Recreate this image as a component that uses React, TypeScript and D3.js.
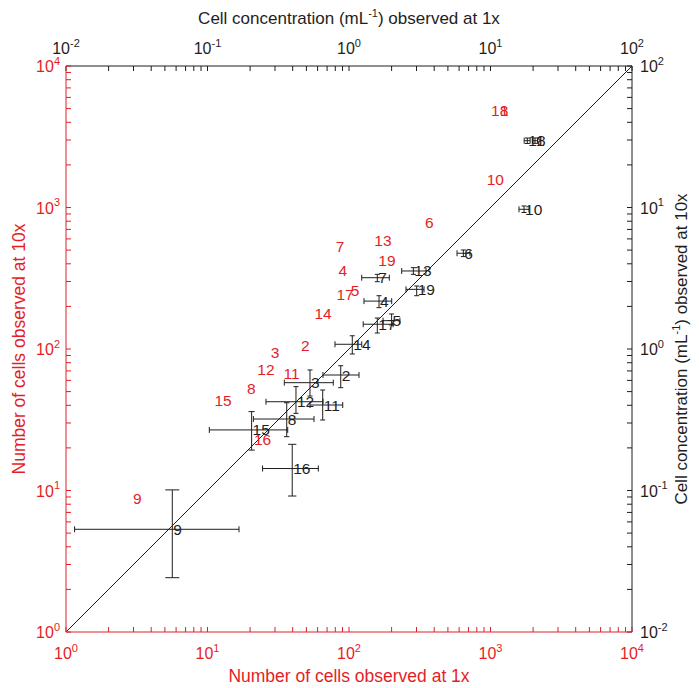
import React from 'react';
import * as d3 from 'd3';

// Sample ids
const ids = ['1','2','3','4','5','6','7','8','9','10','11','12','13','14','15','16','17','18','19'];

// Black markers: number of cells observed at 1x (x) and at 10x (y) with error ranges
const count1x   = [2063, 87.4, 53, 163, 200, 643, 158.5, 36.3, 5.64, 1726, 65.2, 42.2, 285, 105.5, 20.5, 39.7, 158.5, 1820, 301];
const count1xLo = [1975, 65.5, 34.9, 127.6, 174, 580, 123, 21.1, 1.15, 1590, 53, 25.9, 235.7, 79.6, 10.3, 24.5, 126, 1730, 252.8];
const count1xHi = [2150, 117.7, 77.4, 200.4, 229, 716, 192.7, 56.6, 16.7, 1872, 90.3, 65.5, 350, 123, 36.9, 60.7, 205, 1905, 339];
const count10x   = [2966, 65.5, 57.8, 218, 158.5, 475, 319, 32.0, 5.32, 971, 40.2, 42.4, 356, 108, 26.8, 14.3, 149.6, 2966, 264];
const count10xLo = [2840, 53.3, 46.5, 196, 147.8, 450, 299, 24.0, 2.42, 922, 31.5, 35.1, 337, 92.2, 19.3, 9.14, 129.7, 2833, 238];
const count10xHi = [3100, 76.2, 71.1, 238, 176.8, 501, 337, 41.7, 10.1, 1025, 51.3, 54.2, 375.6, 124, 36.1, 21.2, 165.6, 3098, 278.7];

// Red labels: cell concentration (mL^-1) at 1x (top axis) and at 10x (right axis)
const conc1x  = [11.67, 0.457, 0.280, 0.843, 1.03, 3.45, 0.807, 0.190, 0.0297, 9.40, 0.344, 0.225, 1.51, 0.570, 0.112, 0.213, 0.816, 10.09, 1.61];
const conc10x = [48.3, 1.055, 0.948, 3.57, 2.61, 7.81, 5.28, 0.525, 0.0871, 15.9, 0.666, 0.711, 5.82, 1.77, 0.436, 0.230, 2.41, 48.3, 4.21];

// Axis decades
const countDecades = [1, 10, 100, 1000, 10000];
const countExps = ['0', '1', '2', '3', '4'];
const concDecades = [0.01, 0.1, 1, 10, 100];
const concExps = ['-2', '-1', '0', '1', '2'];

const RED = '#e41e26';
const INK = '#1e1e1e';
const FONT = "'Liberation Sans', Arial, Helvetica, sans-serif";

const L = 66, T = 66, S = 566;
const TICK = 5;

function minorTicks(decades: number[]) {
  const out: number[] = [];
  for (let i = 0; i < decades.length - 1; i++) {
    for (let k = 2; k <= 9; k++) out.push(decades[i] * k);
  }
  return out;
}

function Pow({ x, y, exp, anchor, color }: { x: number; y: number; exp: string; anchor: string; color: string }) {
  return (
    <text x={x} y={y} textAnchor={anchor as any} fill={color} fontSize={16} fontFamily={FONT}>
      <tspan>10</tspan>
      <tspan dy={-7.5} fontSize={11}>{exp}</tspan>
    </text>
  );
}

export default function App() {
  const x = d3.scaleLog().domain([1, 10000]).range([L, L + S]);
  const y = d3.scaleLog().domain([1, 10000]).range([T + S, T]);
  const xc = d3.scaleLog().domain([0.01, 100]).range([L, L + S]);
  const yc = d3.scaleLog().domain([0.01, 100]).range([T + S, T]);

  const cMinor = minorTicks(countDecades);
  const kMinor = minorTicks(concDecades);

  return (
    <svg width={699} height={688} style={{ position: 'absolute', left: 0, top: 0, background: '#fff' }}>
      <rect x={0} y={0} width={699} height={688} fill="#fff" />

      {/* top axis (black) */}
      <line x1={L} y1={T} x2={L + S} y2={T} stroke={INK} strokeWidth={1} />
      {[...concDecades, ...kMinor].map((v, i) => (
        <line key={'tt' + i} x1={xc(v)} x2={xc(v)} y1={T} y2={T + TICK} stroke={INK} strokeWidth={1} />
      ))}
      {/* right axis (black) */}
      <line x1={L + S} y1={T} x2={L + S} y2={T + S} stroke={INK} strokeWidth={1} />
      {[...concDecades, ...kMinor].map((v, i) => (
        <line key={'rt' + i} x1={L + S} x2={L + S - TICK} y1={yc(v)} y2={yc(v)} stroke={INK} strokeWidth={1} />
      ))}

      {/* diagonal 1:1 */}
      <line x1={x(1)} y1={y(1)} x2={x(10000)} y2={y(10000)} stroke={INK} strokeWidth={1} />

      {/* bottom axis (red) */}
      <line x1={L} y1={T + S} x2={L + S} y2={T + S} stroke={RED} strokeWidth={1} />
      {[...countDecades, ...cMinor].map((v, i) => (
        <line key={'bt' + i} x1={x(v)} x2={x(v)} y1={T + S} y2={T + S - TICK} stroke={RED} strokeWidth={1} />
      ))}
      {/* left axis (red) */}
      <line x1={L} y1={T} x2={L} y2={T + S} stroke={RED} strokeWidth={1} />
      {[...countDecades, ...cMinor].map((v, i) => (
        <line key={'lt' + i} x1={L} x2={L + TICK} y1={y(v)} y2={y(v)} stroke={RED} strokeWidth={1} />
      ))}

      {/* tick labels */}
      {countDecades.map((v, i) => (
        <Pow key={'bl' + i} x={x(v)} y={T + S + 27} exp={countExps[i]} anchor="middle" color={RED} />
      ))}
      {countDecades.map((v, i) => (
        <Pow key={'ll' + i} x={L - 6} y={y(v) + 6} exp={countExps[i]} anchor="end" color={RED} />
      ))}
      {concDecades.map((v, i) => (
        <Pow key={'tl' + i} x={xc(v)} y={T - 12} exp={concExps[i]} anchor="middle" color={INK} />
      ))}
      {concDecades.map((v, i) => (
        <Pow key={'rl' + i} x={L + S + 8} y={yc(v) + 6} exp={concExps[i]} anchor="start" color={INK} />
      ))}

      {/* axis titles */}
      <text x={L + S / 2} y={T + S + 50} textAnchor="middle" fill={RED} fontSize={17.5} fontFamily={FONT}>
        Number of cells observed at 1x
      </text>
      <text x={L + S / 2} y={24} textAnchor="middle" fill={INK} fontSize={17} fontFamily={FONT}>
        Cell concentration (mL<tspan dy={-7} fontSize={11}>-1</tspan><tspan dy={7}>) observed at 1x</tspan>
      </text>
      <text transform={`translate(25,${T + S / 2}) rotate(-90)`} textAnchor="middle" fill={RED} fontSize={17.5} fontFamily={FONT}>
        Number of cells observed at 10x
      </text>
      <text transform={`translate(687,${T + S / 2}) rotate(-90)`} textAnchor="middle" fill={INK} fontSize={17} fontFamily={FONT}>
        Cell concentration (mL<tspan dy={-7} fontSize={11}>-1</tspan><tspan dy={7}>) observed at 10x</tspan>
      </text>

      {/* red labels (concentration space) */}
      {ids.map((id, i) => (
        <text key={'r' + id} x={xc(conc1x[i])} y={yc(conc10x[i])} dominantBaseline="central" fill={RED} fontSize={15.5} fontFamily={FONT}>
          {id}
        </text>
      ))}

      {/* error bars + black labels (count space) */}
      {ids.map((id, i) => {
        const cx = x(count1x[i]);
        const cy = y(count10x[i]);
        const x0 = x(count1xLo[i]), x1 = x(count1xHi[i]);
        const y0 = y(count10xLo[i]), y1 = y(count10xHi[i]);
        const capW = Math.max(2.5, Math.min(7, (y0 - y1) * 0.08));
        const capH = 3;
        return (
          <g key={'e' + id} stroke={INK} strokeWidth={1} fill="none">
            <line x1={x0} x2={x1} y1={cy} y2={cy} />
            <line x1={x0} x2={x0} y1={cy - capH} y2={cy + capH} />
            <line x1={x1} x2={x1} y1={cy - capH} y2={cy + capH} />
            <line x1={cx} x2={cx} y1={y0} y2={y1} />
            <line x1={cx - capW} x2={cx + capW} y1={y0} y2={y0} />
            <line x1={cx - capW} x2={cx + capW} y1={y1} y2={y1} />
          </g>
        );
      })}
      {ids.map((id, i) => (
        <text key={'b' + id} x={x(count1x[i]) + 1} y={y(count10x[i])} dominantBaseline="central" fill={INK} fontSize={15.5} fontFamily={FONT}>
          {id}
        </text>
      ))}
    </svg>
  );
}
